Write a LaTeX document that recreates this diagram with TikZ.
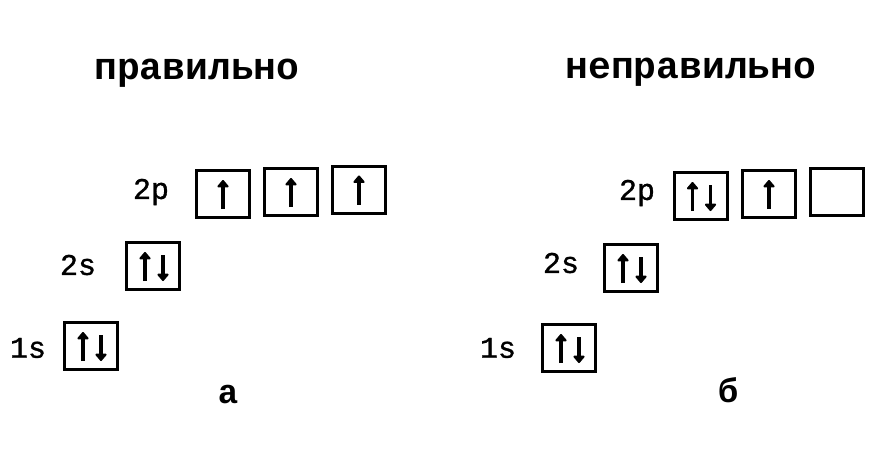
\documentclass[tikz,border=0pt]{standalone}
\usepackage{fontspec}
\setmainfont{Liberation Mono}
\newfontfamily\lblfont{Liberation Mono}[FakeBold=1]
\usetikzlibrary{arrows.meta,calc}
\tikzset{
  orb/.style={draw=black, line width=3pt, minimum width=53pt, minimum height=47pt, inner sep=0pt},
  lbl/.style={font=\lblfont\fontsize{30}{30}\selectfont, inner sep=0pt},
  head/.style={font=\fontsize{38}{38}\selectfont\bfseries, inner sep=0pt},
  caplbl/.style={font=\fontsize{34}{34}\selectfont\bfseries, inner sep=0pt},
  spin/.style={line width=3.5pt, -{Triangle[length=8pt,width=13pt,round]}}
}
\newcommand\oneup[1]{\draw[spin] ($(#1.center)+(0,15)$) -- ($(#1.center)+(0,-14)$);}
\newcommand\pairspin[1]{\draw[spin] ($(#1.center)+(-8,15)$) -- ($(#1.center)+(-8,-14)$);
  \draw[spin] ($(#1.center)+(10,-11)$) -- ($(#1.center)+(10,15)$);}
\begin{document}
\begin{tikzpicture}[x=1pt,y=-1pt]
\useasboundingbox[fill=white] (0,0) rectangle (890,464);
% left
\node[head] (hA) at (197,73) {правильно};
\node[lbl] (l2pA) at (151,192) {2p};
\node[lbl] (l2sA) at (78,265) {2s};
\node[lbl] (l1sA) at (28,348) {1s};
\node[orb] (pA1) at (223,194) {};
\node[orb] (pA2) at (291,192) {};
\node[orb] (pA3) at (359,189.5) {};
\node[orb] (sA2) at (153,266) {};
\node[orb] (sA1) at (91,346) {};
\oneup{pA1}\oneup{pA2}\oneup{pA3}
\pairspin{sA2}\pairspin{sA1}
\node[caplbl] (capA) at (228,395) {а};
% right
\node[head] (hB) at (691,72) {неправильно};
\node[lbl] (l2pB) at (637,193) {2p};
\node[lbl] (l2sB) at (561,263) {2s};
\node[lbl] (l1sB) at (498,348) {1s};
\node[orb] (pB1) at (700.5,196) {};
\node[orb] (pB2) at (769,194) {};
\node[orb] (pB3) at (837,192) {};
\node[orb] (sB2) at (631,268) {};
\node[orb] (sB1) at (569,348) {};
\pairspin{pB1}\oneup{pB2}
\pairspin{sB2}\pairspin{sB1}
\node[caplbl] (capB) at (728,390) {б};
\end{tikzpicture}
\end{document}
